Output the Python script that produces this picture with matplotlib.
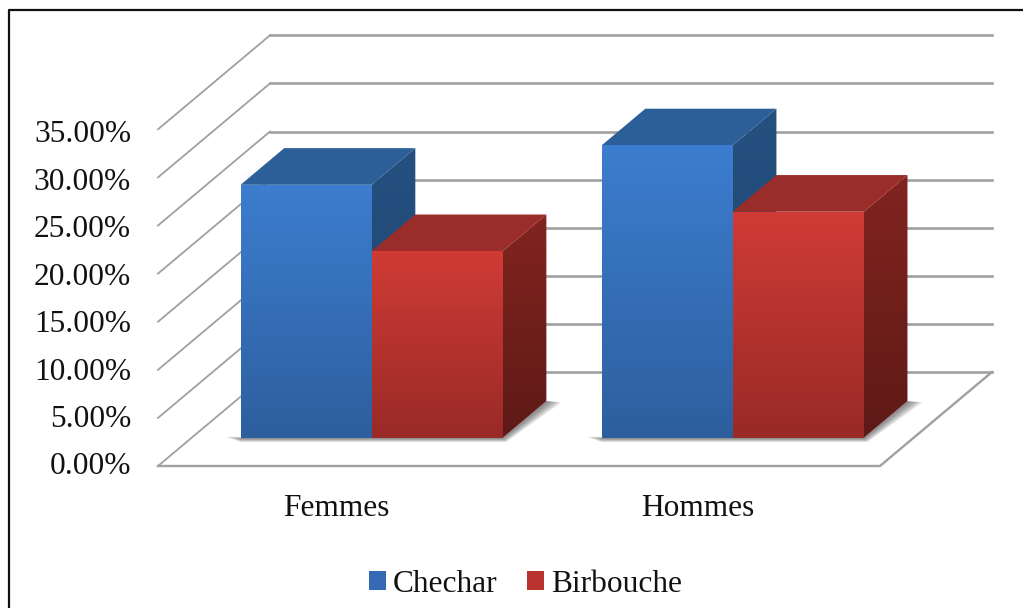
import matplotlib
matplotlib.use('Agg')
import matplotlib.pyplot as plt
from matplotlib.colors import LinearSegmentedColormap
from matplotlib.lines import Line2D
from matplotlib.patches import Patch, Polygon
import numpy as np

plt.rcParams['font.family'] = ['Liberation Serif', 'DejaVu Serif']

categories = ['Femmes', 'Hommes']
series_names = ['Chechar', 'Birbouche']
chechar = [26.3, 30.4]
birbouche = [19.4, 23.5]
ticks = [0, 5, 10, 15, 20, 25, 30, 35]

W, H = 1023, 608
fig = plt.figure(figsize=(W/100, H/100), dpi=100)
ax = fig.add_axes([0, 0, 1, 1])

# one category = 361 px, one percent = 9.62 px
xmin, xmax = -158/361., (W-158)/361.
ymin, ymax = -(H-466)/9.62, 466/9.62
ax.set_axis_off()

# depth of the floor in data units
depth_x = 112/361.
depth_y = 94/9.62
bar_w = 0.363
bar_front = 0.30
bar_depth = 0.39

grid_col = '#a0a0a0'
for t in ticks:
    ax.plot([0, depth_x], [t, t+depth_y], color=grid_col, lw=1.3, zorder=1)
    ax.plot([depth_x, 2+depth_x], [t+depth_y, t+depth_y], color=grid_col, lw=1.9, zorder=1)
    # labels sit a little tighter than the gridlines in the original
    ax.text(-27/361., -0.09+0.986*t, '%.2f%%' % t, ha='right', va='center', fontsize=22.6,
            color='#111111')
ax.plot([0, 2, 2+depth_x], [0, 0, depth_y], color=grid_col, lw=1.7, zorder=1,
        solid_joinstyle='miter')


def grad_poly(pts, c_top, c_bot, zorder):
    pts = np.array(pts)
    cmap = LinearSegmentedColormap.from_list('g', [c_top, c_bot])
    im = ax.imshow(np.linspace(0, 1, 128).reshape(-1, 1), cmap=cmap, aspect='auto',
                   extent=(pts[:, 0].min(), pts[:, 0].max(), pts[:, 1].min(), pts[:, 1].max()),
                   origin='upper', zorder=zorder, interpolation='bilinear')
    p = Polygon(pts, closed=True, transform=ax.transData, fc='none', ec='none')
    ax.add_patch(p)
    im.set_clip_path(p)


def bar3d(x0, val, cols, z):
    # cols: front top, front bottom, side top, side bottom, top face
    ox = bar_front*depth_x
    oy = bar_front*depth_y
    dx = bar_depth*depth_x
    dy = bar_depth*depth_y
    x1 = x0+bar_w
    grad_poly([(x1+ox, oy+val), (x1+ox+dx, oy+val+dy), (x1+ox+dx, oy+dy), (x1+ox, oy)],
              cols[2], cols[3], z)
    ax.add_patch(Polygon([(x0+ox, oy+val), (x1+ox, oy+val), (x1+ox+dx, oy+val+dy), (x0+ox+dx, oy+val+dy)],
                         closed=True, fc=cols[4], ec='none', zorder=z))
    grad_poly([(x0+ox, oy), (x1+ox, oy), (x1+ox, oy+val), (x0+ox, oy+val)], cols[0], cols[1], z+0.5)


blues = ['#3c7dcf', '#2d5f9e', '#25507f', '#1e4370', '#2c5e98']
reds = ['#d03b35', '#992a27', '#82241f', '#5e1a17', '#9a2c29']
starts = [0.1357, 1.136]

# soft shadow on the floor behind the bars
for x0 in starts:
    ox = bar_front*depth_x
    oy = bar_front*depth_y
    right = x0+2*bar_w+ox
    for k in range(1, 7):
        grow = k*2.0
        pts = [(x0+ox-grow*1.25/361., oy+1.0/9.62), (x0+ox, oy-grow*0.35/9.62),
               (right+grow*0.3/361., oy-grow*0.35/9.62),
               (right+bar_depth*depth_x+grow*1.25/361., oy+bar_depth*depth_y-grow*0.1/9.62),
               (right+bar_depth*depth_x, oy+bar_depth*depth_y), (right, oy), (x0+ox, oy)]
        ax.add_patch(Polygon(pts, closed=True, fc='#444444', ec='none', alpha=0.14, zorder=2))

for i in range(len(categories)):
    bar3d(starts[i], chechar[i], blues, 3+i*2)
    bar3d(starts[i]+bar_w, birbouche[i], reds, 3.2+i*2)
    ax.text(i+0.495, -5.2, categories[i], ha='center', va='baseline', fontsize=22.6,
            color='#111111')

handles = [Patch(fc='#3569b3', ec='none'), Patch(fc='#bb332f', ec='none')]
ax.legend(handles, series_names, ncol=2, frameon=False, loc='center',
          bbox_to_anchor=(525.5/W, 1-584/H), bbox_transform=fig.transFigure, fontsize=22.6,
          handlelength=0.53, handleheight=0.53, handletextpad=0.22, columnspacing=0.95,
          borderpad=0, borderaxespad=0, labelcolor='#111111')

ax.set_xlim(xmin, xmax)
ax.set_ylim(ymin, ymax)

# black frame of the pasted picture
fig.add_artist(Line2D([8.5/W, 8.5/W, 1], [0, 1-9.5/H, 1-9.5/H], color='#111111', lw=1.6,
                      transform=fig.transFigure))

fig.savefig('out.png', dpi=100)
